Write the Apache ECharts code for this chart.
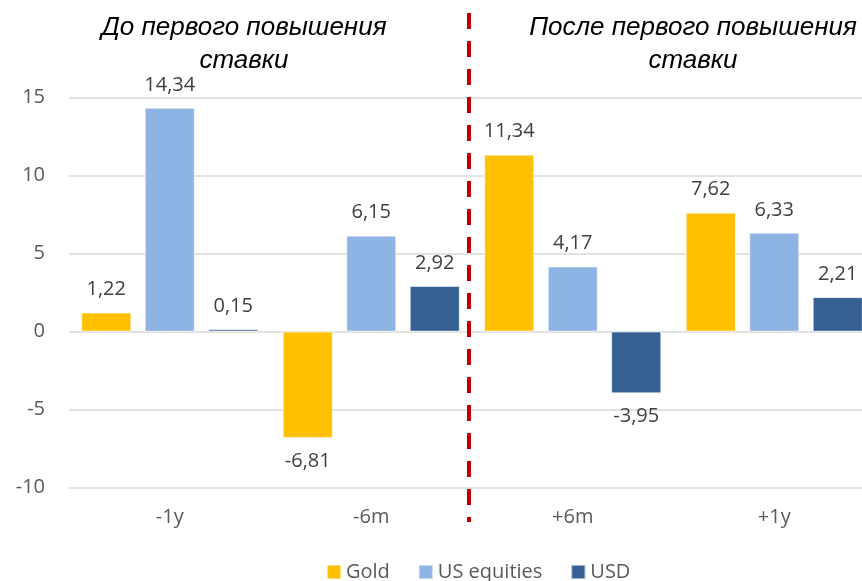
<!DOCTYPE html>
<html>
<head>
<meta charset="utf-8">
<script src="https://cdn.jsdelivr.net/npm/echarts@6/dist/echarts.min.js"></script>
<style>
html,body{margin:0;padding:0;background:#fff;overflow:hidden;width:862px;height:581px;}
#chart{width:876px;height:581px;}
</style>
</head>
<body>
<div id="chart"></div>
<script>
const categories = ['-1y', '-6m', '+6m', '+1y'];
const seriesNames = ['Gold', 'US equities', 'USD'];
const goldValues = [1.22, -6.81, 11.34, 7.62];
const equitiesValues = [14.34, 6.15, 4.17, 6.33];
const usdValues = [0.15, 2.92, -3.95, 2.21];
const yTicks = { min: -10, max: 15, interval: 5 };
const titleLeft = 'До первого повышения\nставки';
const titleRight = 'После первого повышения\nставки';

const colors = ['#FFC000', '#8EB4E3', '#376092'];
const font = '"Open Sans", sans-serif';
const fmt = v => v.toFixed(2).replace('.', ',');

const chart = echarts.init(document.getElementById('chart'), null, { renderer: 'canvas' });

function makeSeries(name, data, color) {
  return {
    name: name,
    type: 'bar',
    barWidth: 50,
    barGap: '27%',
    data: data.map(v => ({
      value: v,
      label: { position: v >= 0 ? 'top' : 'bottom' }
    })),
    itemStyle: { color: color, borderColor: 'rgba(255,255,255,0.5)', borderWidth: 1 },
    label: {
      show: true,
      distance: 13,
      formatter: p => fmt(p.value),
      color: '#404040',
      fontFamily: font,
      fontSize: 20
    },
    emphasis: { disabled: true }
  };
}

const option = {
  animation: false,
  backgroundColor: '#fff',
  title: [
    {
      text: titleLeft,
      left: 239, top: 6, textAlign: 'center',
      textStyle: { fontFamily: '"Liberation Sans", Arial, sans-serif', fontStyle: 'italic', fontWeight: 'normal', fontSize: 26, lineHeight: 33, color: '#000' }
    },
    {
      text: titleRight,
      left: 688, top: 6, textAlign: 'center',
      textStyle: { fontFamily: '"Liberation Sans", Arial, sans-serif', fontStyle: 'italic', fontWeight: 'normal', fontSize: 26, lineHeight: 33, color: '#000' }
    }
  ],
  legend: {
    data: seriesNames,
    left: 326,
    top: 562,
    padding: 0,
    itemWidth: 14,
    itemHeight: 14,
    itemGap: 28,
    icon: 'rect',
    textStyle: { fontFamily: font, fontSize: 20, color: '#595959' }
  },
  grid: { left: 69, right: 1, top: 97.5, bottom: 93.3, containLabel: false },
  xAxis: {
    type: 'category',
    data: categories,
    axisLine: { show: false, onZero: false },
    axisTick: { show: false },
    axisLabel: { margin: 20, color: '#595959', fontFamily: font, fontSize: 20 },
    splitLine: { show: false }
  },
  yAxis: {
    type: 'value',
    min: yTicks.min,
    max: yTicks.max,
    interval: yTicks.interval,
    axisLine: { show: false },
    axisTick: { show: false },
    axisLabel: { margin: 24, color: '#595959', fontFamily: font, fontSize: 20 },
    splitLine: { lineStyle: { color: '#D9D9D9', width: 1.5 } }
  },
  series: [
    makeSeries(seriesNames[0], goldValues, colors[0]),
    makeSeries(seriesNames[1], equitiesValues, colors[1]),
    makeSeries(seriesNames[2], usdValues, colors[2])
  ]
};
chart.setOption(option);

// red dashed separator between "before" and "after" groups
const xa = chart.convertToPixel({ xAxisIndex: 0 }, categories[1]);
const xb = chart.convertToPixel({ xAxisIndex: 0 }, categories[2]);
const sepX = Math.round((xa + xb) / 2) - 3;
chart.setOption({
  graphic: [{
    type: 'line',
    z: 100,
    shape: { x1: sepX, y1: 13, x2: sepX, y2: 522 },
    style: { stroke: '#C00000', lineWidth: 4, lineDash: [16, 12] }
  }]
});
</script>
</body>
</html>
